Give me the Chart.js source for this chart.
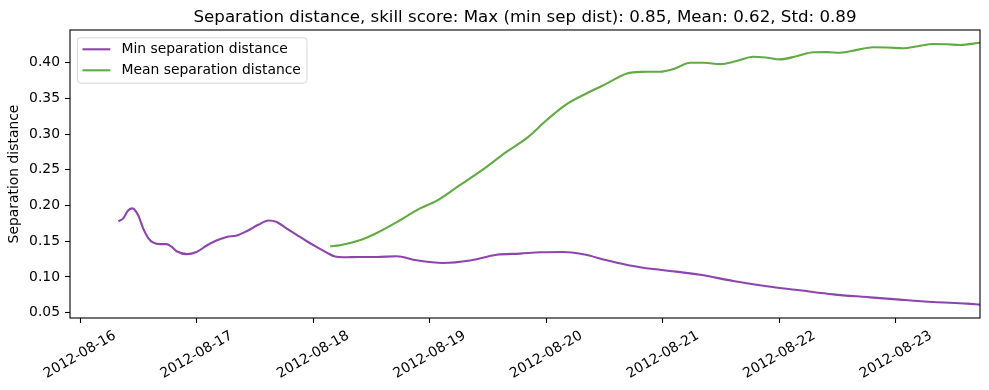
<!DOCTYPE html>
<html>
<head>
<meta charset="utf-8">
<script src="https://cdn.jsdelivr.net/npm/chart.js@4/dist/chart.umd.min.js"></script>
<style>html,body{margin:0;padding:0;background:#fff}canvas{display:block}</style>
</head>
<body>
<canvas id="c" width="989" height="390"></canvas>
<script>
// ---- data (time in hours since 2012-08-16 00:00 UTC) ----
const baseTime = Date.UTC(2012, 7, 16);
const chartTitle = 'Separation distance, skill score: Max (min sep dist): 0.85, Mean: 0.62, Std: 0.89';
const yAxisTitle = 'Separation distance';
const seriesNames = ['Min separation distance', 'Mean separation distance'];
const xTickLabels = ['2012-08-16','2012-08-17','2012-08-18','2012-08-19','2012-08-20','2012-08-21','2012-08-22','2012-08-23'];

const minHours = [7.9, 8.9, 9.9, 10.8, 12.0, 13.0, 14.1, 15.1, 16.5, 17.8, 18.9, 19.9, 22.0, 24.0, 26.1, 28.1, 30.2, 32.3, 34.3, 36.7, 38.8, 40.5, 42.5, 44.6, 46.7, 48.7, 50.8, 52.5, 54.2, 57.6, 61.0, 65.2, 69.3, 74.8, 80.3, 85.8, 90.6, 94.8, 99.5, 103.6, 108.5, 113.2, 118.0, 122.8, 127.7, 134.5, 141.4, 148.2, 155.1, 162.0, 168.8, 175.7, 182.6, 185.3];
const minValues = [0.178, 0.182, 0.193, 0.196, 0.186, 0.168, 0.154, 0.148, 0.146, 0.146, 0.142, 0.136, 0.132, 0.135, 0.144, 0.151, 0.156, 0.158, 0.164, 0.173, 0.179, 0.177, 0.168, 0.159, 0.150, 0.142, 0.134, 0.1285, 0.1275, 0.128, 0.128, 0.129, 0.1233, 0.1195, 0.123, 0.131, 0.1327, 0.1345, 0.135, 0.1317, 0.1233, 0.116, 0.111, 0.1075, 0.103, 0.0943, 0.0869, 0.0813, 0.0756, 0.0718, 0.0682, 0.0649, 0.0626, 0.0612];

const meanHours = [51.5, 53.5, 57.6, 61.1, 65.9, 70.0, 73.4, 78.2, 83.0, 87.8, 91.9, 96.1, 100.2, 105.7, 108.5, 112.6, 115.5, 119.4, 122.5, 125.6, 128.5, 131.8, 135.0, 138.6, 141.5, 144.1, 147.5, 151.0, 153.8, 156.5, 160.0, 163.3, 166.3, 169.5, 172.5, 175.7, 178.5, 181.2, 185.3];
const meanValues = [0.143, 0.1444, 0.1513, 0.1616, 0.1794, 0.196, 0.2065, 0.2285, 0.2505, 0.2752, 0.294, 0.3197, 0.342, 0.3617, 0.371, 0.385, 0.3872, 0.3874, 0.392, 0.400, 0.400, 0.398, 0.402, 0.4084, 0.407, 0.4047, 0.409, 0.4146, 0.4148, 0.414, 0.418, 0.4216, 0.4212, 0.4202, 0.423, 0.4262, 0.4258, 0.4248, 0.428];

// ---- helpers / styling ----
const FONT = '"DejaVu Sans", sans-serif';
const COLORS = ['#8e44ad', '#62ab44'];
const hoursOf = (d) => (Date.parse(d + 'T00:00:00Z') - baseTime) / 3600000;
const pts = (xs, ys) => xs.map((x, i) => ({x, y: ys[i]}));

const decor = {
  id: 'decor',
  afterDraw(chart) {
    const {ctx, chartArea: a, scales: {x}} = chart;
    ctx.save();
    // frame (all four spines)
    ctx.strokeStyle = '#000';
    ctx.lineWidth = 1.1;
    ctx.strokeRect(a.left, a.top, a.right - a.left, a.bottom - a.top);
    // title
    ctx.fillStyle = '#000';
    ctx.font = '16.67px ' + FONT;
    ctx.textAlign = 'center';
    ctx.textBaseline = 'alphabetic';
    ctx.fillText(chartTitle, (a.left + a.right) / 2, a.top - 8.3);
    // rotated x tick labels, centred under ticks
    ctx.font = '13.9px ' + FONT;
    xTickLabels.forEach((lab) => {
      const px = x.getPixelForValue(hoursOf(lab));
      const w = ctx.measureText(lab).width;
      const bh = w * 0.5 + 16.2 * Math.cos(Math.PI / 6);
      ctx.save();
      ctx.translate(px, a.bottom + 9.7 + bh / 2);
      ctx.rotate(-Math.PI / 6);
      ctx.textAlign = 'center';
      ctx.textBaseline = 'middle';
      ctx.fillText(lab, 0, 0);
      ctx.restore();
    });
    // legend (upper left inside axes)
    const ds = chart.data.datasets;
    ctx.font = '13.9px ' + FONT;
    let tw = 0;
    ds.forEach(d => { tw = Math.max(tw, ctx.measureText(d.label).width); });
    const bx = a.left + 6.9, by = a.top + 7.3;
    const bw = 5.6 + 27.8 + 11.1 + tw + 5.6;
    const bhgt = 45.4;
    ctx.beginPath();
    if (ctx.roundRect) ctx.roundRect(bx + 0.5, by + 0.5, bw, bhgt, 2.8); else ctx.rect(bx + 0.5, by + 0.5, bw, bhgt);
    ctx.fillStyle = 'rgba(255,255,255,0.8)';
    ctx.fill();
    ctx.strokeStyle = 'rgba(204,204,204,0.8)';
    ctx.lineWidth = 1;
    ctx.stroke();
    ds.forEach((d, i) => {
      const cy = by + 12 + i * 21;
      ctx.strokeStyle = d.borderColor;
      ctx.lineWidth = 2.1;
      ctx.beginPath();
      ctx.moveTo(bx + 5.6, cy);
      ctx.lineTo(bx + 5.6 + 27.8, cy);
      ctx.stroke();
      ctx.fillStyle = '#000';
      ctx.textAlign = 'left';
      ctx.textBaseline = 'middle';
      ctx.fillText(d.label, bx + 5.6 + 27.8 + 11.1, cy + 0.5);
    });
    ctx.restore();
  }
};

new Chart(document.getElementById('c'), {
  type: 'line',
  data: {
    datasets: [
      {label: seriesNames[0], data: pts(minHours, minValues), borderColor: COLORS[0], borderWidth: 2.1, pointRadius: 0, cubicInterpolationMode: 'monotone', fill: false},
      {label: seriesNames[1], data: pts(meanHours, meanValues), borderColor: COLORS[1], borderWidth: 2.1, pointRadius: 0, cubicInterpolationMode: 'monotone', fill: false}
    ]
  },
  options: {
    responsive: false,
    animation: false,
    events: [],
    layout: {padding: {top: 30, right: 9, left: 0, bottom: 0}},
    plugins: {legend: {display: false}, tooltip: {enabled: false}, title: {display: false}},
    scales: {
      x: {
        type: 'linear',
        position: 'bottom',
        min: -2.06,
        max: 185.3,
        afterBuildTicks: (s) => { s.ticks = xTickLabels.map(l => ({value: hoursOf(l)})); },
        afterFit: (s) => { s.height = 72; },
        ticks: {display: false},
        grid: {display: true, drawOnChartArea: false, drawTicks: true, tickLength: 5, tickColor: '#000', tickWidth: 1.1},
        border: {display: false}
      },
      y: {
        type: 'linear',
        position: 'left',
        min: 0.0425,
        max: 0.4458,
        afterFit: (s) => { s.width = 70; },
        ticks: {stepSize: 0.05, includeBounds: false, padding: 5, color: '#000', font: {family: FONT, size: 13.9}, callback: (v) => v.toFixed(2)},
        grid: {display: true, drawOnChartArea: false, drawTicks: true, tickLength: 5, tickColor: '#000', tickWidth: 1.1},
        border: {display: false},
        title: {display: true, text: yAxisTitle, color: '#000', font: {family: FONT, size: 13.9}, padding: {top: 6, bottom: 0}}
      }
    }
  },
  plugins: [decor]
});
</script>
</body>
</html>
